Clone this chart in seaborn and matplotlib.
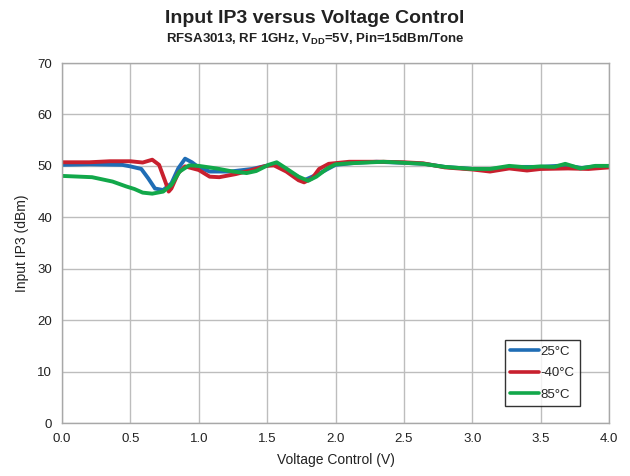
import numpy as np
import pandas as pd
import matplotlib
matplotlib.use("Agg")
import matplotlib.pyplot as plt
import seaborn as sns

# Input IP3 (dBm) versus control voltage (V) at three temperatures
v_25 = [0.0, 0.2, 0.44, 0.5, 0.58, 0.63, 0.68, 0.74, 0.8, 0.85, 0.9, 0.95, 1.0, 1.08, 1.23,
        1.39, 1.49, 1.55, 1.64, 1.77, 1.88, 2.0, 2.15, 2.3, 2.5, 2.65, 2.8,
        3.0, 3.15, 3.3, 3.5, 3.68, 3.8, 3.9, 4.0]
ip3_25 = [50.2, 50.3, 50.2, 49.9, 49.4, 47.6, 45.6, 45.3, 46.6, 49.5, 51.4, 50.7, 49.7, 48.9, 48.9,
          49.4, 50.0, 50.3, 49.2, 47.2, 48.5, 50.2, 50.6, 50.8, 50.6, 50.4, 49.8,
          49.4, 49.4, 49.8, 49.8, 50.1, 49.6, 49.9, 49.8]

v_m40 = [0.0, 0.2, 0.35, 0.5, 0.59, 0.66, 0.71, 0.76, 0.78, 0.8, 0.85, 0.9, 1.0, 1.08, 1.15,
         1.27, 1.39, 1.49, 1.55, 1.64, 1.73, 1.77, 1.83, 1.88, 1.95, 2.1, 2.35, 2.5, 2.64, 2.8,
         3.0, 3.13, 3.27, 3.4, 3.5, 3.7, 3.85, 4.0]
ip3_m40 = [50.7, 50.7, 50.9, 50.9, 50.65, 51.2, 50.2, 46.6, 45.0, 45.6, 48.6, 49.9, 49.2, 47.9, 47.8,
           48.4, 49.2, 50.0, 50.1, 48.9, 47.2, 46.8, 47.6, 49.4, 50.4, 50.8, 50.8, 50.7, 50.5, 49.7,
           49.3, 48.9, 49.5, 49.1, 49.4, 49.5, 49.4, 49.7]

v_85 = [0.0, 0.22, 0.37, 0.47, 0.53, 0.59, 0.66, 0.74, 0.8, 0.86, 0.93, 1.0, 1.13, 1.25, 1.35,
        1.42, 1.51, 1.57, 1.64, 1.73, 1.8, 1.86, 1.94, 2.0, 2.1, 2.35, 2.5, 2.64, 2.8,
        3.0, 3.13, 3.27, 3.4, 3.5, 3.6, 3.68, 3.79, 3.9, 4.0]
ip3_85 = [48.05, 47.8, 46.95, 46.0, 45.5, 44.8, 44.6, 45.0, 46.3, 48.9, 50.1, 50.0, 49.5, 48.9, 48.6,
          49.0, 50.2, 50.7, 49.5, 47.9, 47.1, 47.9, 49.5, 50.3, 50.5, 50.8, 50.6, 50.4, 49.8,
          49.4, 49.4, 50.0, 49.7, 49.9, 49.8, 50.4, 49.5, 50.0, 50.0]

temps = ["25°C", "-40°C", "85°C"]
colors = ["#1f6db5", "#c8202e", "#12a84a"]

df = pd.concat([
    pd.DataFrame({"Voltage": v_25, "IP3": ip3_25, "Temp": temps[0]}),
    pd.DataFrame({"Voltage": v_m40, "IP3": ip3_m40, "Temp": temps[1]}),
    pd.DataFrame({"Voltage": v_85, "IP3": ip3_85, "Temp": temps[2]}),
], ignore_index=True)

sns.set_style("white")
plt.rcParams["font.family"] = ["Liberation Sans", "DejaVu Sans"]
plt.rcParams["mathtext.fontset"] = "custom"
plt.rcParams["mathtext.rm"] = "Liberation Sans"
plt.rcParams["mathtext.bf"] = "Liberation Sans:bold"

fig = plt.figure(figsize=(6.3, 4.76), dpi=100)
ax = fig.add_axes([0.0984, 0.1113, 0.8683, 0.7563])

sns.lineplot(data=df, x="Voltage", y="IP3", hue="Temp", hue_order=temps,
             palette=colors, linewidth=2.8, ax=ax, legend=True)
for ln in ax.get_lines():
    ln.set_solid_joinstyle("round")
    ln.set_solid_capstyle("round")

ax.set_xlim(0, 4)
ax.set_ylim(0, 70)
ax.set_xticks(np.arange(0, 4.01, 0.5))
ax.set_yticks(np.arange(0, 71, 10))
ax.set_xticklabels([f"{t:.1f}" for t in np.arange(0, 4.01, 0.5)])
ax.grid(True, color="#bdbdbd", linewidth=1.0)
ax.set_axisbelow(True)
for s in ax.spines.values():
    s.set_color("#a8a8a8")
    s.set_linewidth(1.0)
ax.tick_params(axis="both", length=0, labelsize=9.5, colors="#222222", pad=7)

ax.set_xlabel("Voltage Control (V)", fontsize=10, color="#222222", labelpad=6)
ax.set_ylabel("Input IP3 (dBm)", fontsize=10, color="#222222", labelpad=6)

fig.text(0.5, 0.962, "Input IP3 versus Voltage Control", ha="center", va="center",
         fontsize=14, fontweight="bold", color="#222222")
fig.text(0.5, 0.918, r"RFSA3013, RF 1GHz, V$_{\mathbf{DD}}$=5V, Pin=15dBm/Tone",
         ha="center", va="center", fontsize=9.5, fontweight="bold", color="#222222")

leg = ax.legend(loc="lower right", bbox_to_anchor=(0.947, 0.047), borderaxespad=0,
                fontsize=9.5, frameon=True, fancybox=False, handlelength=2.2,
                handletextpad=0.1, borderpad=0.4, labelspacing=0.7, title=None)
leg.get_frame().set_edgecolor("black")
leg.get_frame().set_linewidth(1.0)
for line in leg.get_lines():
    line.set_linewidth(2.6)

fig.savefig("out.png", dpi=100)
